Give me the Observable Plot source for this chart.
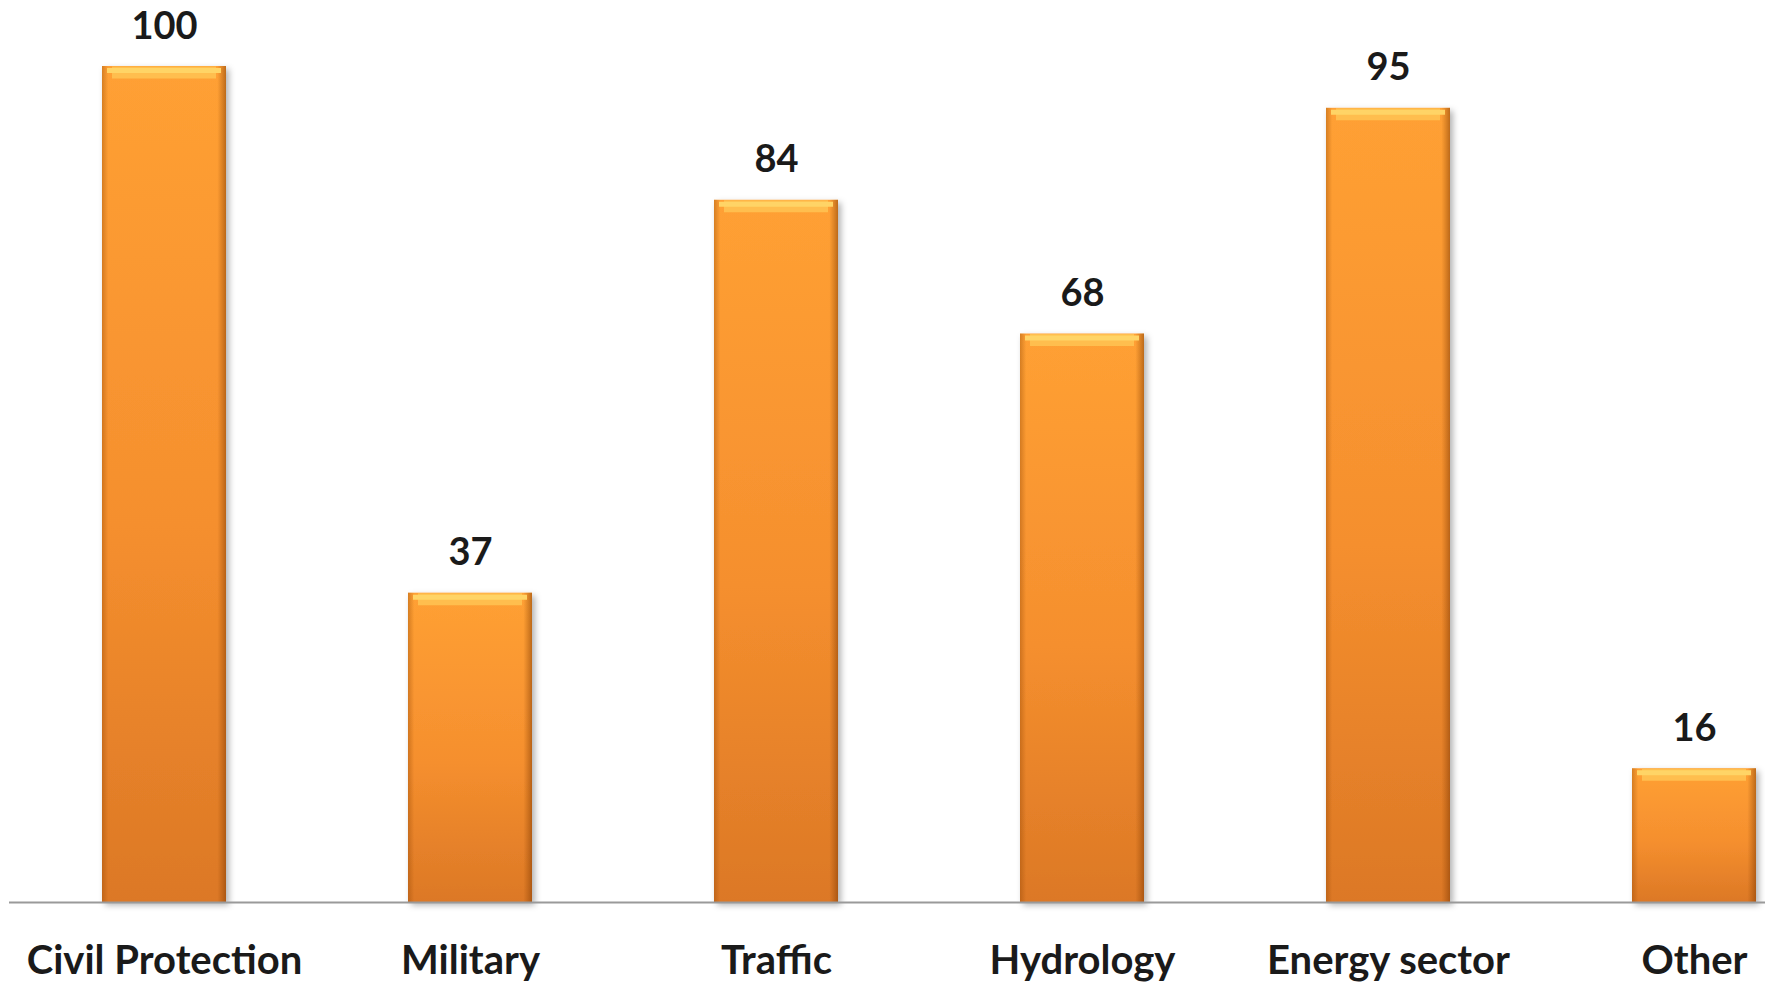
<!DOCTYPE html>
<html>
<head>
<meta charset="utf-8">
<script src="https://cdn.jsdelivr.net/npm/d3@7"></script>
<script src="https://cdn.jsdelivr.net/npm/@observablehq/plot@0.6"></script>
<style>
  html, body { margin: 0; padding: 0; background: #ffffff; }
  #chart svg { display: block; }
</style>
</head>
<body>
<div id="chart"></div>
<script>
const categories = ["Civil Protection", "Military", "Traffic", "Hydrology", "Energy sector", "Other"];
const values = [100, 37, 84, 68, 95, 16];

const data = categories.map((c, i) => ({category: c, value: values[i]}));

const font = "Lato, 'Open Sans', sans-serif";

const chart = Plot.plot({
  width: 1765,
  height: 983,
  marginTop: 66,
  marginBottom: 81,
  marginLeft: 9,
  marginRight: 0,
  style: {fontFamily: font, background: "#ffffff"},
  x: {domain: categories, paddingInner: 0.595, paddingOuter: 0.165, align: 0.91, label: null},
  y: {domain: [0, 100], axis: null},
  marks: [
    Plot.barY(data, {x: "category", y: "value", fill: "url(#barGrad)", className: "mainbar"}),
    Plot.barY(data, {x: "category", y: "value", fill: "url(#edgeGrad)"}),
    Plot.tickY(data, {x: "category", y: "value", stroke: "#FFBE4E", strokeWidth: 12, dy: 6, insetLeft: 10, insetRight: 10}),
    Plot.tickY(data, {x: "category", y: "value", stroke: "#FFD466", strokeWidth: 5, dy: 4, insetLeft: 5, insetRight: 5}),
    Plot.ruleY([0], {stroke: "#9a9a9a", strokeWidth: 2}),
    Plot.axisX({tickSize: 0, tickPadding: 43, fontSize: 40, fontWeight: "bold", fill: "#1a1a1a", label: null}),
    Plot.text(data, {x: "category", y: "value", text: d => String(d.value), dy: -28, lineAnchor: "bottom", fontSize: 38, fontWeight: "bold", fill: "#1a1a1a"})
  ]
});

const ns = "http://www.w3.org/2000/svg";
const defs = document.createElementNS(ns, "defs");
defs.innerHTML = `
  <linearGradient id="barGrad" x1="0" y1="0" x2="0" y2="1">
    <stop offset="0%" stop-color="#FFA034"/>
    <stop offset="55%" stop-color="#F58F2E"/>
    <stop offset="100%" stop-color="#DC7826"/>
  </linearGradient>
  <linearGradient id="edgeGrad" x1="0" y1="0" x2="1" y2="0">
    <stop offset="0%" stop-color="#8a4000" stop-opacity="0.35"/>
    <stop offset="5%" stop-color="#8a4000" stop-opacity="0"/>
    <stop offset="93%" stop-color="#8a4000" stop-opacity="0"/>
    <stop offset="100%" stop-color="#7a3500" stop-opacity="0.5"/>
  </linearGradient>
  <filter id="shadow" x="-10%" y="-5%" width="130%" height="115%">
    <feDropShadow dx="3" dy="3" stdDeviation="3" flood-color="#000" flood-opacity="0.3"/>
  </filter>
`;
chart.insertBefore(defs, chart.firstChild);
const mb = chart.querySelector(".mainbar");
if (mb) mb.setAttribute("filter", "url(#shadow)");
document.getElementById("chart").appendChild(chart);
</script>
</body>
</html>
